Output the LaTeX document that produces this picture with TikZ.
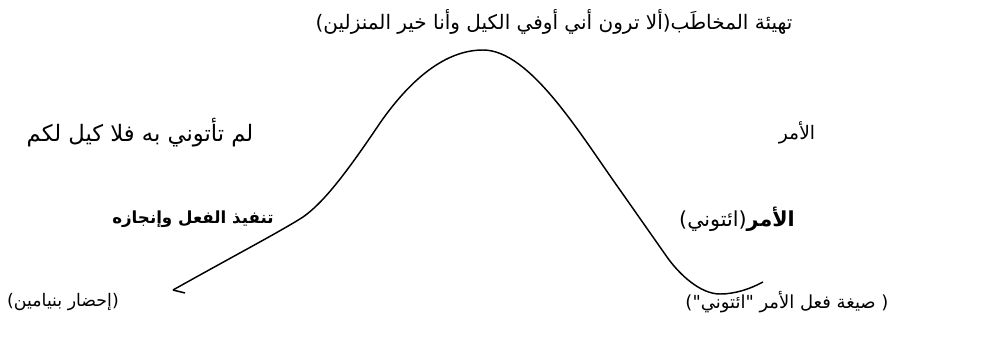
\documentclass[tikz,border=0pt]{standalone}
\usepackage{fontspec}
\newfontfamily\arabicfont[Script=Arabic]{DejaVu Sans}
\TeXXeTstate=1

\tikzset{
	artext/.style={font=\arabicfont\fontsize{#1}{#1}\selectfont, inner sep=0pt},
	artext/.default=14,
	arbold/.style={font=\arabicfont\bfseries\fontsize{#1}{#1}\selectfont, inner sep=0pt},
	arbold/.default=14
}

\begin{document}
\begin{tikzpicture}[x=0.75pt, y=-0.75pt, line width=1.1pt]
			\useasboundingbox (0,0) rectangle (985,336);
			
			% Texto superior: la cima de la curva
			\node[artext=15] (tahyia) at (554,22) {\beginR تهيئة المخاطَب(ألا ترون أني أوفي الكيل وأنا خير المنزلين)\endR};
			
			% Fila central
			\node[artext=17] (lamtatuni) at (140,133) {\beginR لم تأتوني به فلا كيل لكم\endR};
			\node[artext=14] (amr) at (797,133) {\beginR الأمر\endR};
			
			% Fila en negrita
			\node[arbold=12.5] (tanfidh) at (193,219) {\beginR تنفيذ الفعل وإنجازه\endR};
			\node[artext=15.5] (amrituni) at (737,219) {\beginR {\bfseries الأمر}(ائتوني)\endR};
			
			% Fila inferior
			\node[artext=13] (ihdar) at (63,302) {\beginR (إحضار بنيامين)\endR};
			\node[artext=13.5] (sigha) at (787,302) {\beginR ( صيغة فعل الأمر "ائتوني")\endR};
			
			% La curva
			\coordinate (hook) at (185,293);
			\coordinate (start) at (173,290);
			\coordinate (shoulder) at (303,217);
			\coordinate (peak) at (483,50);
			\coordinate (slope) at (620,190);
			\coordinate (low) at (667,257);
			\coordinate (bottom) at (720,294);
			\coordinate (end) at (763,282);
			\draw (hook) -- (start);
			\draw (start) .. controls (230,258) and (283,230) .. (shoulder)
				.. controls (323,203) and (345,175) .. (380,123)
				.. controls (410,80) and (445,50) .. (peak)
				.. controls (530,50) and (580,134) .. (slope)
				-- (low)
				.. controls (679,274) and (700,294) .. (bottom)
				.. controls (735,294) and (750,289) .. (end);
			
		\end{tikzpicture}
\end{document}
